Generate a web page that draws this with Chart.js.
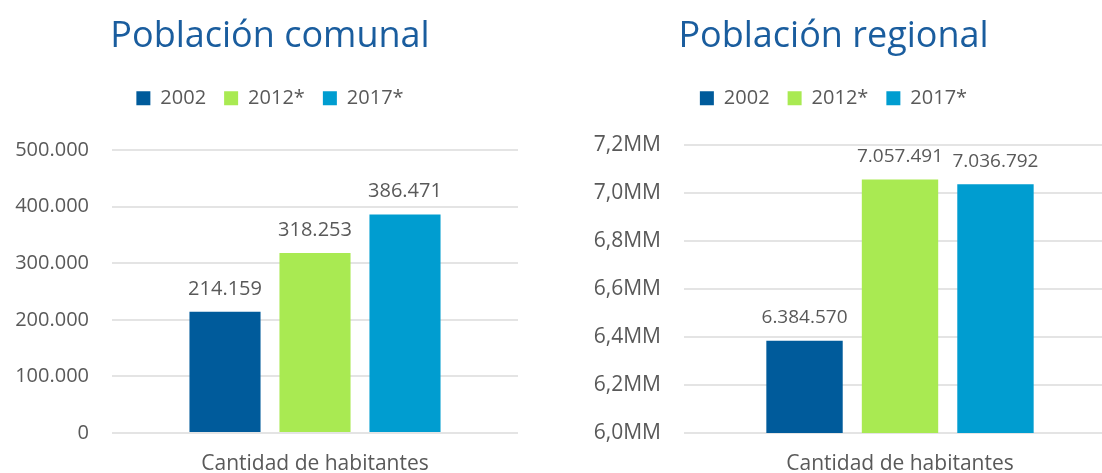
<!DOCTYPE html>
<html>
<head>
<meta charset="utf-8">
<script src="https://cdn.jsdelivr.net/npm/chart.js@4.4.0/dist/chart.umd.min.js"></script>
<style>
  html, body { margin: 0; padding: 0; background: #fff; overflow: hidden; }
  body { width: 1102px; height: 473px; position: relative; }
  .box { position: absolute; top: 0; height: 473px; }
  #left { left: 0; width: 540px; }
  #right { left: 551px; width: 565px; }
</style>
</head>
<body>
<div class="box" id="left"><canvas id="comunal"></canvas></div>
<div class="box" id="right"><canvas id="regional"></canvas></div>
<script>
const categories = ["Cantidad de habitantes"];
const seriesNames = ["2002", "2012*", "2017*"];
const seriesColors = ["#005b9b", "#a9ea52", "#009dd0"];

const comunalValues = [214159, 318253, 386471];
const regionalValues = [6384570, 7057491, 7036792];

const comunalTicks = { min: 0, max: 500000, step: 100000 };
const regionalTicks = { min: 6000000, max: 7200000, step: 200000 };

const textColor = "#595959";
const gridColor = "#e4e4e4";
const fontFamily = "'Open Sans', sans-serif";

function thousands(v) {
  return String(Math.round(v)).replace(/\B(?=(\d{3})+(?!\d))/g, ".");
}

function millions(v) {
  return (v / 1000000).toFixed(1).replace(".", ",") + "MM";
}

// value labels above each bar
const barLabels = {
  id: "barLabels",
  afterDatasetsDraw(chart, args, opts) {
    const ctx = chart.ctx;
    ctx.save();
    ctx.fillStyle = textColor;
    ctx.font = opts.size + "px " + fontFamily;
    ctx.textAlign = "center";
    ctx.textBaseline = "middle";
    chart.data.datasets.forEach((ds, i) => {
      const bar = chart.getDatasetMeta(i).data[0];
      ctx.fillText(thousands(ds.data[0]), bar.x, bar.y - opts.offset);
    });
    ctx.restore();
  },
};

// extra room under the legend, and a sideways nudge for title + legend
const headerTweak = {
  id: "headerTweak",
  beforeInit(chart, args, opts) {
    const fit = chart.legend.fit;
    chart.legend.fit = function () {
      fit.bind(chart.legend)();
      this.height += opts.gap;
    };
  },
  afterLayout(chart, args, opts) {
    [chart.titleBlock, chart.legend].forEach((b) => {
      b.left += opts.shift;
      b.right += opts.shift;
    });
  },
};

function makeChart(id, title, values, ticks, fmt, cfg) {
  return new Chart(document.getElementById(id), {
    type: "bar",
    data: {
      labels: categories,
      datasets: seriesNames.map((name, i) => ({
        label: name,
        data: [values[i]],
        backgroundColor: seriesColors[i],
        categoryPercentage: cfg.catPct,
        barPercentage: cfg.barPct,
      })),
    },
    options: {
      responsive: true,
      maintainAspectRatio: false,
      animation: false,
      layout: { padding: { top: 0, right: cfg.padRight, bottom: 0, left: 0 } },
      plugins: {
        title: {
          display: true,
          text: title,
          color: "#1a5d9e",
          font: { family: fontFamily, size: 36, weight: "normal" },
          padding: { top: 15, bottom: 12 },
        },
        legend: {
          display: true,
          labels: {
            color: textColor,
            font: { family: fontFamily, size: 20 },
            boxWidth: 14,
            boxHeight: 14,
            padding: 18,
          },
        },
        headerTweak: { gap: cfg.legendGap, shift: cfg.shift },
        tooltip: { enabled: false },
        barLabels: { size: cfg.labelSize, offset: 23 },
      },
      scales: {
        x: {
          grid: { display: false },
          border: { display: false },
          ticks: {
            color: textColor,
            font: { family: fontFamily, size: 21 },
            padding: 10,
          },
          afterFit(scale) {
            scale.height = 40;
          },
        },
        y: {
          min: ticks.min,
          max: ticks.max,
          border: { display: false },
          grid: { color: gridColor, lineWidth: 2, drawTicks: false },
          ticks: {
            stepSize: ticks.step,
            color: textColor,
            font: { family: fontFamily, size: cfg.tickSize },
            padding: 23,
            callback: fmt,
          },
          afterFit(scale) {
            scale.width = cfg.axisWidth;
          },
        },
      },
    },
    plugins: [barLabels, headerTweak],
  });
}

makeChart("comunal", "Población comunal", comunalValues, comunalTicks, thousands, {
  catPct: 0.665, barPct: 0.79, padRight: 22, legendGap: 32, shift: 11,
  labelSize: 20, tickSize: 20, axisWidth: 112,
});

makeChart("regional", "Población regional", regionalValues, regionalTicks, millions, {
  catPct: 0.663, barPct: 0.80, padRight: 0, legendGap: 27, shift: 0,
  labelSize: 19, tickSize: 21, axisWidth: 133,
});
</script>
</body>
</html>
